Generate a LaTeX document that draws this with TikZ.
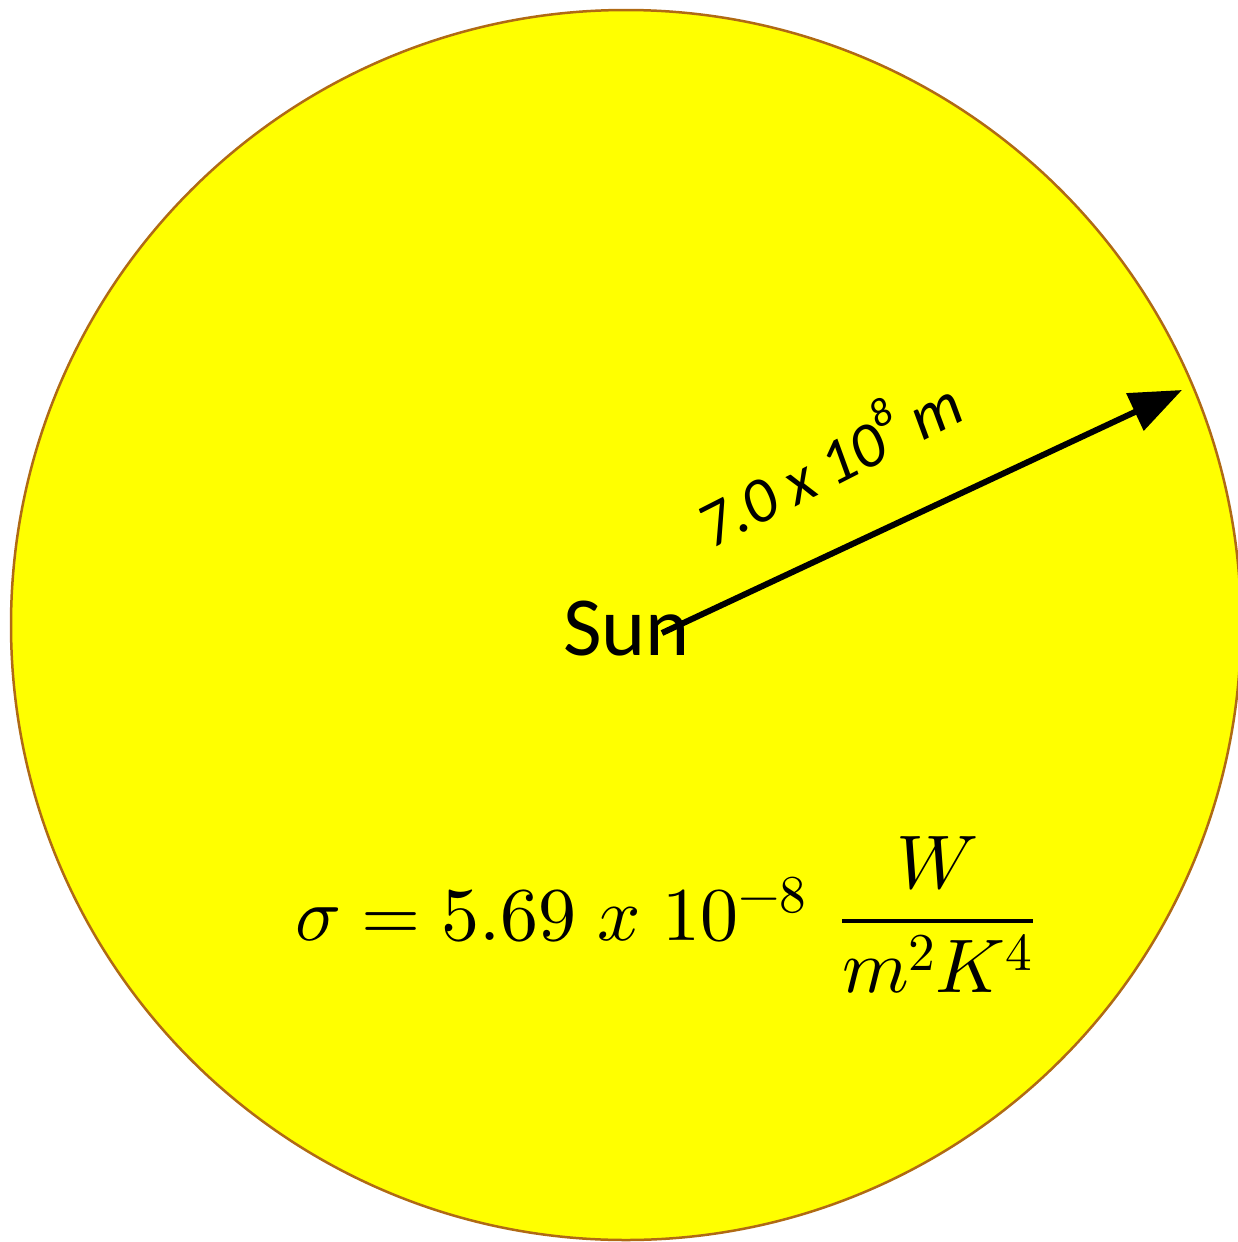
\documentclass[tikz,border=0pt]{standalone}
\usepackage{fontspec}
\usepackage{unicode-math}
\setmainfont{Carlito}
\setmathfont{Latin Modern Math}
\usetikzlibrary{arrows.meta}
\definecolor{sunfill}{HTML}{FFFF00}
\definecolor{sunedge}{HTML}{B06A14}
\tikzset{
  sunbody/.style={circle, fill=sunfill, draw=sunedge, line width=2.5pt, minimum size=1230pt, inner sep=0pt},
  radiusarrow/.style={line width=6pt, -{Triangle[length=52pt,width=40pt]}},
  sunlabel/.style={font=\fontsize{84}{100}\selectfont, inner sep=0pt},
  radlabel/.style={font=\itshape\fontsize{64}{70}\selectfont, inner sep=0pt},
  eqlabel/.style={font=\fontsize{76}{90}\selectfont, inner sep=0pt}
}
\begin{document}
\begin{tikzpicture}[x=1pt,y=1pt]
\useasboundingbox (0,0) rectangle (1238,-1242);
\node[sunbody] (sun) at (626,-625) {};
\node[sunlabel, anchor=base west] (sunname) at (563,-655) {Sun};
\coordinate (start) at (662,-633);
\coordinate (tip) at (1182,-390);
\draw[radiusarrow] (start) -- (tip);
\node[radlabel, rotate=27] (radius) at (826,-458) {7.0 x 10\raisebox{0.5em}{\fontsize{40}{44}\selectfont 8} m};
\node[eqlabel, anchor=base west] (sigma) at (295,-940) {$\displaystyle \sigma = 5.69\;x\;10^{-8}\;\,\frac{W}{m^2K^4}$};
\end{tikzpicture}
\end{document}
